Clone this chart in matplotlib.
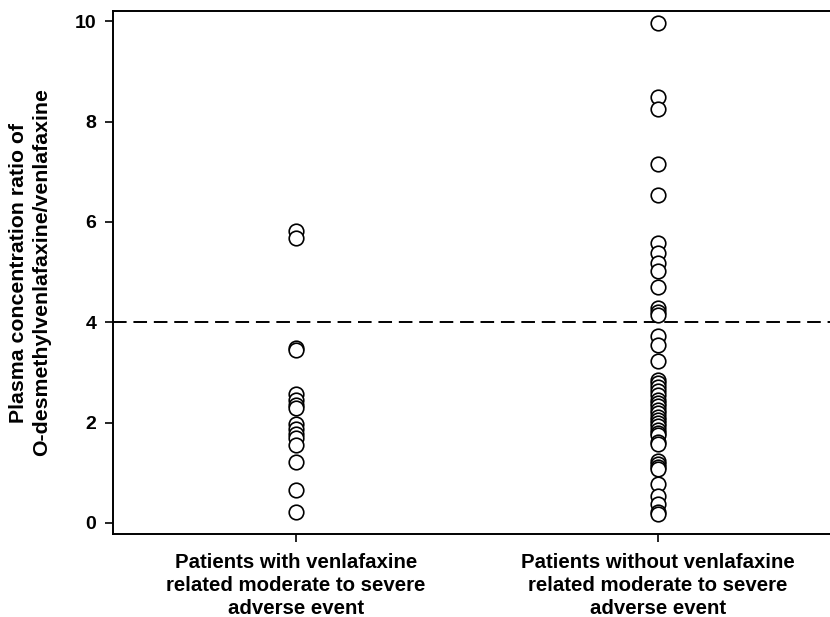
import numpy as np
import matplotlib
matplotlib.use("Agg")
import matplotlib.pyplot as plt

plt.rcParams['font.family'] = ['Liberation Sans', 'DejaVu Sans']
plt.rcParams['font.weight'] = 'bold'

# group labels
groups = ["Patients with venlafaxine\nrelated moderate to severe\nadverse event",
          "Patients without venlafaxine\nrelated moderate to severe\nadverse event"]

# ratio values
with_ae = [5.82, 5.67, 3.49, 3.45, 2.57, 2.46, 2.36, 2.30, 1.98, 1.88,
           1.78, 1.70, 1.56, 1.21, 0.65, 0.22]
without_ae = [9.97, 8.48, 8.25, 7.16, 6.53, 5.58, 5.38, 5.18, 5.03, 4.71,
              4.28, 4.21, 4.15, 3.73, 3.55, 3.22, 2.84, 2.78, 2.70, 2.62,
              2.55, 2.46, 2.40, 2.33, 2.26, 2.20, 2.12, 2.06, 1.99, 1.93,
              1.85, 1.80, 1.75, 1.62, 1.58, 1.24, 1.18, 1.12, 1.08, 0.77,
              0.54, 0.38, 0.22, 0.17]
cutoff = 4
yticks = [0, 2, 4, 6, 8, 10]

fig = plt.figure(figsize=(8.3, 6.17), dpi=100)
ax = fig.add_axes([0.136, 0.1345, 0.864, 0.8475])

for i, vals in enumerate([with_ae, without_ae]):
    ax.scatter(np.full(len(vals), i + 1), vals, s=110, facecolors='white',
               edgecolors='black', linewidths=1.2, zorder=3)

# cut-off line
ax.axhline(cutoff, color='black', linestyle=(0, (7, 3.5)), linewidth=1.4, zorder=2)

ax.set_xlim(0.495, 2.475)
ax.set_ylim(-0.22, 10.2)
ax.set_xticks([1, 2])
ax.set_xticklabels(groups, fontsize=14.7, fontweight='bold', linespacing=1.25)
ax.set_yticks(yticks)
ax.set_yticklabels([str(t) for t in yticks], fontsize=14, fontweight='bold')
ax.tick_params(direction='out', length=6, width=1.2, pad=6)
ax.tick_params(axis='x', pad=8)

for side in ['left', 'top', 'bottom']:
    ax.spines[side].set_linewidth(1.4)
ax.spines['right'].set_visible(False)

ax.set_ylabel("Plasma concentration ratio of\nO-desmethylvenlafaxine/venlafaxine",
              fontsize=15.3, fontweight='bold', labelpad=17, linespacing=1.25)

fig.savefig("out.png", dpi=100)
